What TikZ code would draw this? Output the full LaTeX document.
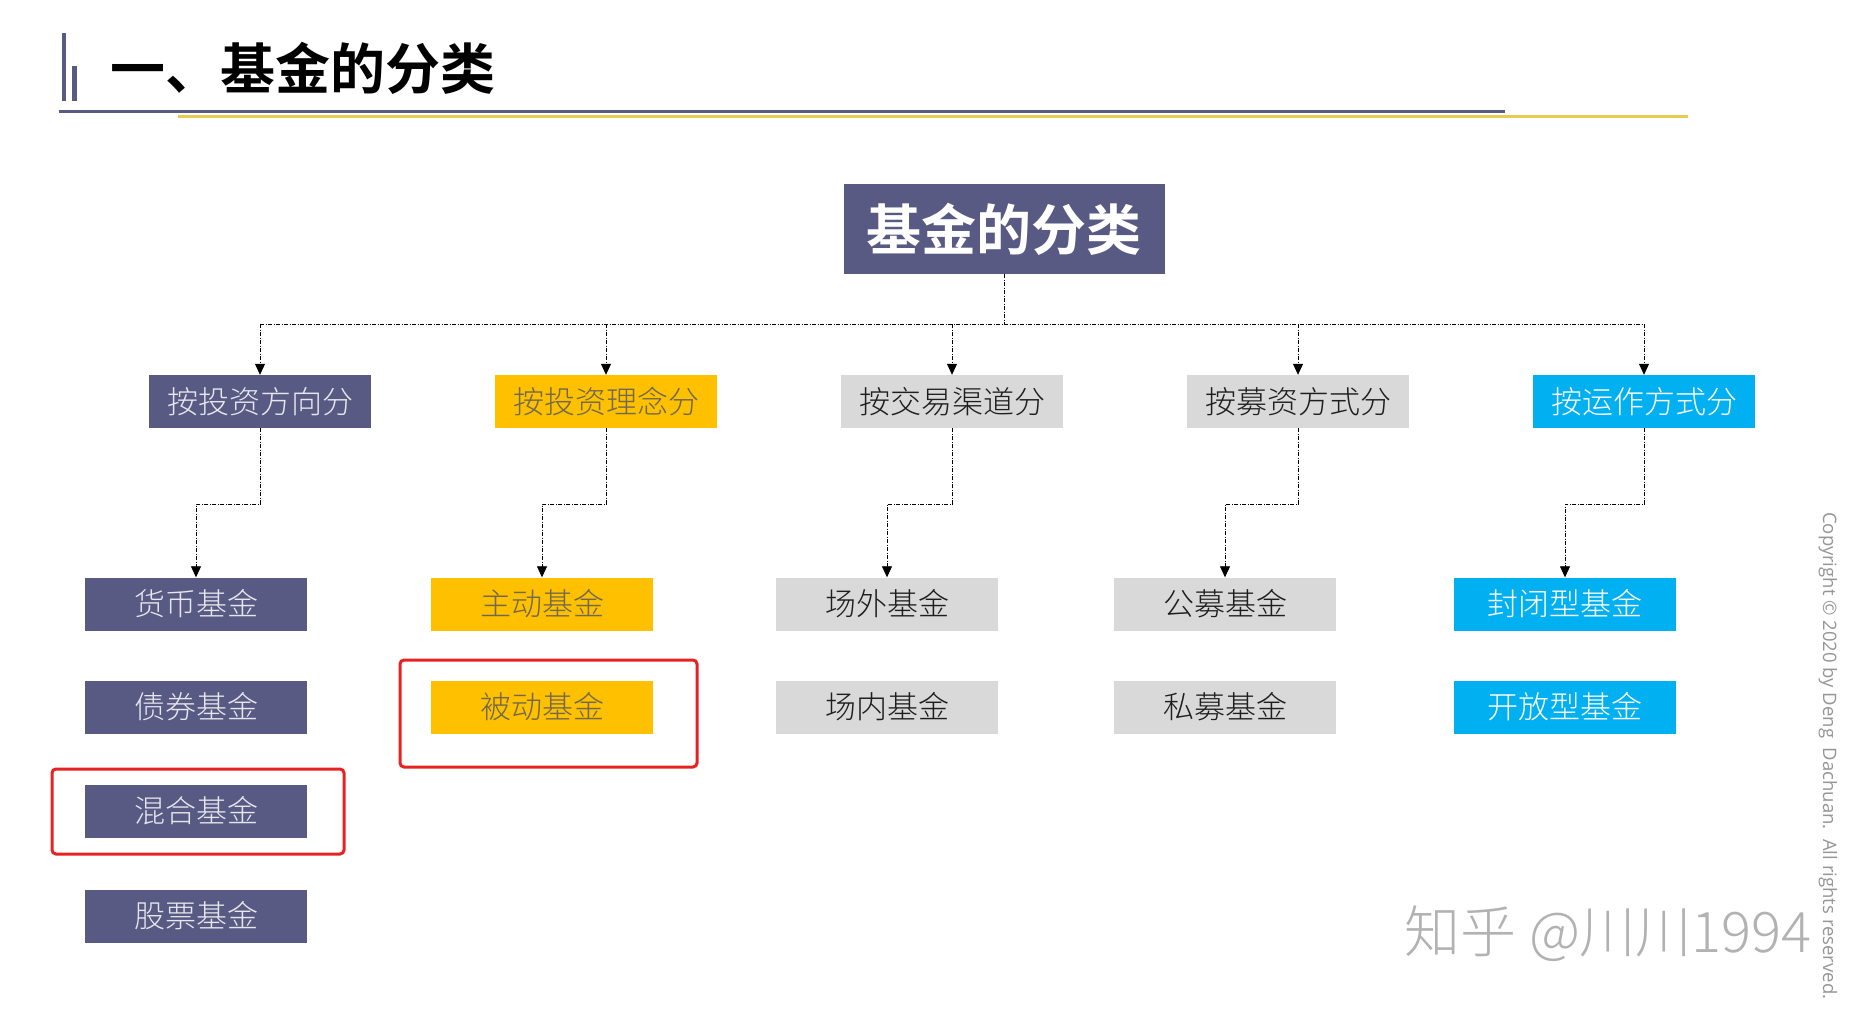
\documentclass[tikz,border=0pt]{standalone}
\usepackage{fontspec}
\newfontfamily\cjk{Noto Sans CJK SC Light}
\newfontfamily\cjkb{Noto Sans CJK SC Bold}
\newfontfamily\latinf{Open Sans}
\usetikzlibrary{arrows.meta}
\definecolor{slate}{HTML}{585A84}
\definecolor{gold}{HTML}{FFC000}
\definecolor{lgray}{HTML}{D9D9D9}
\definecolor{cyanbox}{HTML}{00B0F0}
\definecolor{redbox}{HTML}{E62222}
\definecolor{lineyellow}{HTML}{E8CC50}
\definecolor{goldtext}{RGB}{112,104,80}
\begin{document}
\begin{tikzpicture}[x=1pt,y=-1pt,
  box/.style={minimum width=222pt,minimum height=53pt,inner sep=0pt,font=\cjk\fontsize{31}{31}\selectfont},
  slatebox/.style={box,fill=slate,text={rgb,255:red,230;green,230;blue,236}},
  goldbox/.style={box,fill=gold,text=goldtext},
  graybox/.style={box,fill=lgray,text={rgb,255:red,30;green,30;blue,30}},
  cyanb/.style={box,fill=cyanbox,text=white},
  conn/.style={draw=black,line width=0.8pt,dash pattern=on 4pt off 1.5pt on 1pt off 1.5pt},
  arr/.style={conn,-{Triangle[length=11pt,width=10pt]}},
  hl/.style={draw=redbox,line width=3pt,rounded corners=4pt}
]
\useasboundingbox (0,0) rectangle (1860,1009);
\fill[white] (0,0) rectangle (1860,1009);
% title decoration
\fill[slate] (62,33) rectangle (66,101);
\fill[slate] (72,66) rectangle (77,101);
\fill[slate] (59,109.5) rectangle (1505,112.5);
\fill[lineyellow] (178,114.5) rectangle (1688,117.5);
\node[anchor=west,inner sep=0pt,font=\cjkb\fontsize{55}{55}\selectfont] (title) at (110,68) {一、基金的分类};
% main box
\node[minimum width=321pt,minimum height=90pt,inner sep=0pt,fill=slate,text=white,font=\cjkb\fontsize{55}{55}\selectfont] (main) at (1004,229) {基金的分类};
% level 2
\node[slatebox] (a1) at (260,401.5) {按投资方向分};
\node[goldbox]  (a2) at (606,401.5) {按投资理念分};
\node[graybox]  (a3) at (952,401.5) {按交易渠道分};
\node[graybox]  (a4) at (1298,401.5) {按募资方式分};
\node[cyanb]    (a5) at (1644,401.5) {按运作方式分};
% level 3
\node[slatebox] (b11) at (196,604) {货币基金};
\node[slatebox] (b12) at (196,707) {债券基金};
\node[slatebox] (b13) at (196,811) {混合基金};
\node[slatebox] (b14) at (196,916) {股票基金};
\node[goldbox]  (b21) at (542,604) {主动基金};
\node[goldbox]  (b22) at (542,707) {被动基金};
\node[graybox]  (b31) at (887,604) {场外基金};
\node[graybox]  (b32) at (887,707) {场内基金};
\node[graybox]  (b41) at (1225,604) {公募基金};
\node[graybox]  (b42) at (1225,707) {私募基金};
\node[cyanb]    (b51) at (1565,604) {封闭型基金};
\node[cyanb]    (b52) at (1565,707) {开放型基金};
% connectors
\coordinate (hc) at (1004,324);
\coordinate (hL) at (260,324);
\coordinate (hR) at (1644,324);
\draw[conn] (main.south) -- (hc);
\draw[conn] (hL) -- (hR);
\foreach \n in {a1,a2,a3,a4,a5}{\draw[arr] (\n.north |- hc) -- (\n.north);}
\draw[arr] (a1.south) -- ++(0,76) -| (b11.north);
\draw[arr] (a2.south) -- ++(0,76) -| (b21.north);
\draw[arr] (a3.south) -- ++(0,76) -| (b31.north);
\draw[arr] (a4.south) -- ++(0,76) -| (b41.north);
\draw[arr] (a5.south) -- ++(0,76) -| (b51.north);
% highlight frames
\draw[hl] (52,769) rectangle (344,854);
\draw[hl] (400,660) rectangle (697,767);
% watermark and copyright
\node[anchor=east,inner sep=0pt,text={rgb,255:red,178;green,178;blue,178},font=\cjk\fontsize{56}{56}\selectfont] (wm) at (1812,934) {知乎 @川川1994};
\node[anchor=west,rotate=-90,inner sep=0pt,text={rgb,255:red,150;green,150;blue,150},font=\latinf\fontsize{18.5}{18.5}\selectfont] (copy) at (1828,512) {Copyright © 2020 by Deng\ \ Dachuan.\ \ All rights reserved.};
\end{tikzpicture}
\end{document}
